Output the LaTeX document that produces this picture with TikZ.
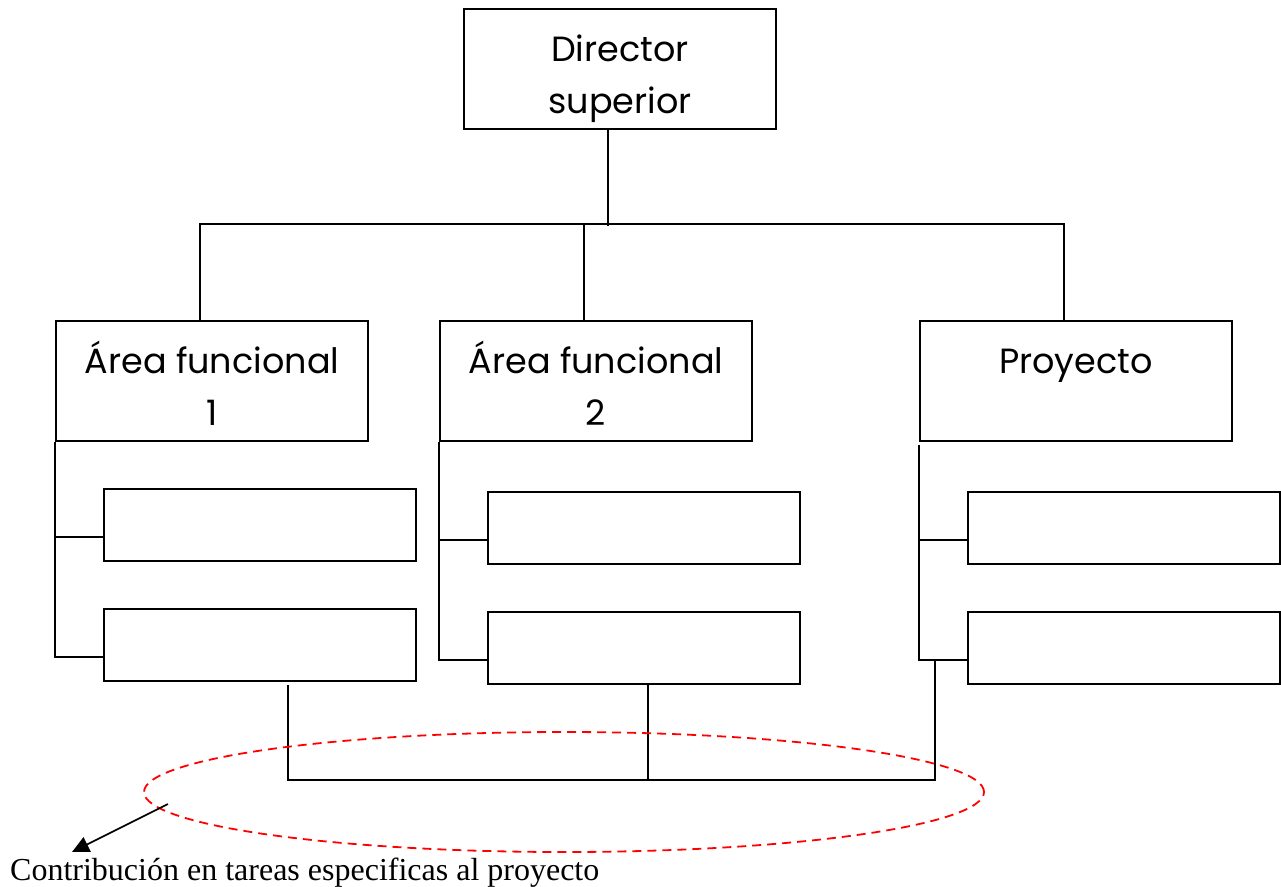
\documentclass[tikz,border=0pt]{standalone}
\usepackage{fontspec}
\usetikzlibrary{shapes.geometric,arrows.meta,calc}
\newfontfamily\boxfont{Poppins}
\newfontfamily\capfont{Liberation Serif}
% two-line box text with fixed top and bottom clearance
\newcommand\twolines[2]{\rule{0pt}{50pt}#1\\#2\rule[-14pt]{0pt}{0pt}}
\begin{document}
\begin{tikzpicture}[x=1pt,y=-1pt,
  box/.style={draw,line width=2pt,rectangle,minimum width=312pt,minimum height=120pt,
    inner sep=0pt,align=center,font=\boxfont\fontsize{35}{52}\selectfont},
  sub/.style={draw,line width=2pt,rectangle,minimum width=312pt,minimum height=72pt,inner sep=0pt},
  link/.style={line width=2pt},
  ring/.style={draw=red,ellipse,line width=1.8pt,dash pattern=on 9pt off 6pt,
    minimum width=840pt,minimum height=120pt,inner sep=0pt},
  pointer/.style={line width=1.6pt,-{Triangle[length=17pt,width=16pt]}},
]
\useasboundingbox (0,0) rectangle (1281,886);
\fill[white] (0,0) rectangle (1281,886);

% top level and functional areas
\node[box] (dir) at (620,69)  {\twolines{Director}{superior}};
\node[box] (a1)  at (212,381) {\twolines{Área funcional}{1}};
\node[box] (a2)  at (596,381) {\twolines{Área funcional}{2}};
\node[box] (pr)  at (1076,381) {\twolines{Proyecto}{}};

% empty sub-units
\node[sub] (a1s1) at (260,525) {};
\node[sub] (a1s2) at (260,645) {};
\node[sub] (a2s1) at (644,528) {};
\node[sub] (a2s2) at (644,648) {};
\node[sub] (prs1) at (1124,528) {};
\node[sub] (prs2) at (1124,648) {};

% hierarchy links
\draw[link] ($(dir.south)+(-12,0)$) -- ++(0,96);
\draw[link] ($(a1.north)+(-12,0)$) |- ($(pr.north)+(-12,-96)$) -- ($(pr.north)+(-12,0)$);
\draw[link] ($(a2.north)+(-12,0)$) -- ++(0,-96);

% rails to the sub-units
\draw[link] (a1.south west) |- ($(a1s2.west)+(0,12)$);
\draw[link] (a1.south west |- a1s1.west) ++(0,12) -- ($(a1s1.west)+(0,12)$);
\draw[link] (a2.south west) |- ($(a2s2.west)+(0,12)$);
\draw[link] (a2.south west |- a2s1.west) ++(0,12) -- ($(a2s1.west)+(0,12)$);
\draw[link] ($(pr.south west)+(0,3)$) |- ($(prs2.west)+(0,12)$);
\draw[link] (pr.south west |- prs1.west) ++(0,12) -- ($(prs1.west)+(0,12)$);

% project contribution links
\draw[link] ($(a1s2.south)+(28,3)$) |- ($(prs2.west)+(-32,132)$) -- ($(prs2.west)+(-32,12)$);
\draw[link] ($(a2s2.south)+(4,0)$) -- ++(0,96);

% highlight and caption
\node[ring] (hl) at (564,792) {};
\node[anchor=base west,inner sep=0pt,font=\capfont\fontsize{32}{38}\selectfont] (cap) at (10,880)
  {Contribución en tareas especificas al proyecto};
\coordinate (from) at (168,804);
\coordinate (tip) at (72,852);
\draw[pointer] (from) -- (tip);
\end{tikzpicture}
\end{document}
